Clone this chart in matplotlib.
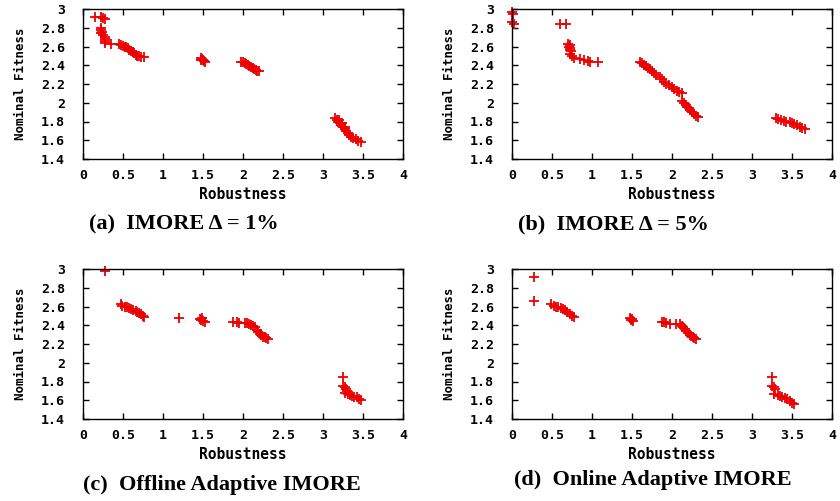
import matplotlib
matplotlib.use("Agg")
import matplotlib.pyplot as plt

# ---- data ----
a_x = [0.15, 0.22, 0.25, 0.27, 0.22, 0.23, 0.24, 0.23, 0.25, 0.27, 0.28, 0.27, 0.28, 0.35,
       0.45, 0.48, 0.50, 0.52, 0.54, 0.56, 0.58, 0.60, 0.62, 0.64, 0.66, 0.68, 0.70, 0.72, 0.76,
       1.47, 1.49, 1.50, 1.51, 1.52, 1.48,
       1.97, 2.00, 2.02, 2.04, 2.06, 2.08, 2.10, 2.12, 2.14, 2.16, 2.18, 2.20,
       3.15, 3.17, 3.19, 3.21, 3.23, 3.25, 3.27, 3.29, 3.31, 3.33, 3.35, 3.38, 3.41, 3.44, 3.48,
       3.20, 3.24, 3.28]
a_y = [2.92, 2.92, 2.90, 2.89, 2.80, 2.78, 2.76, 2.74, 2.72, 2.70, 2.68, 2.66, 2.64, 2.63,
       2.63, 2.62, 2.61, 2.60, 2.59, 2.58, 2.56, 2.55, 2.54, 2.53, 2.51, 2.50, 2.50, 2.49, 2.49,
       2.48, 2.47, 2.46, 2.45, 2.44, 2.46,
       2.43, 2.43, 2.42, 2.41, 2.40, 2.39, 2.38, 2.37, 2.36, 2.35, 2.34, 2.34,
       1.84, 1.82, 1.80, 1.78, 1.76, 1.74, 1.72, 1.70, 1.68, 1.66, 1.64, 1.62, 1.61, 1.59, 1.58,
       1.82, 1.78, 1.74]

b_x = [0.00, 0.01, 0.00, 0.02, 0.60, 0.68,
       0.70, 0.72, 0.71, 0.73, 0.72, 0.74, 0.73, 0.75, 0.78, 0.85, 0.90, 0.95, 0.98, 1.07,
       1.60, 1.63, 1.65, 1.68, 1.70, 1.72, 1.75, 1.78, 1.80, 1.85, 1.88, 1.90, 1.93, 1.96,
       2.00, 2.03, 2.06, 2.09, 2.12, 2.13,
       2.15, 2.17, 2.19, 2.21, 2.23, 2.25, 2.27, 2.30, 2.32,
       3.30, 3.33, 3.36, 3.40, 3.43, 3.47, 3.50, 3.53, 3.56, 3.60, 3.63, 3.66]
b_y = [2.97, 2.95, 2.86, 2.84, 2.84, 2.84,
       2.63, 2.62, 2.60, 2.58, 2.56, 2.55, 2.52, 2.50, 2.48, 2.47, 2.46, 2.45, 2.44, 2.44,
       2.43, 2.42, 2.40, 2.39, 2.37, 2.36, 2.34, 2.32, 2.30, 2.27, 2.25, 2.22, 2.20, 2.19,
       2.17, 2.15, 2.13, 2.12, 2.10, 2.02,
       2.00, 1.98, 1.96, 1.94, 1.92, 1.90, 1.88, 1.86, 1.85,
       1.84, 1.83, 1.82, 1.81, 1.80, 1.79, 1.78, 1.77, 1.76, 1.74, 1.73, 1.72]

c_x = [0.28,
       0.47, 0.49, 0.52, 0.55, 0.58, 0.60, 0.63, 0.66, 0.68, 0.70, 0.72, 0.75, 0.76,
       1.20,
       1.46, 1.48, 1.50, 1.52, 1.49,
       1.87, 1.92, 1.95, 2.02, 2.05, 2.08, 2.10, 2.13, 2.15, 2.17, 2.19, 2.21, 2.23, 2.25,
       2.27, 2.29, 2.31,
       3.25, 3.25, 3.27, 3.29, 3.30, 3.28, 3.31, 3.34, 3.36, 3.39, 3.42, 3.45, 3.48]
c_y = [2.98,
       2.63, 2.61, 2.60, 2.59, 2.58, 2.57, 2.56, 2.55, 2.54, 2.53, 2.52, 2.50, 2.49,
       2.48,
       2.47, 2.46, 2.45, 2.44, 2.48,
       2.43, 2.43, 2.42, 2.42, 2.42, 2.41, 2.40, 2.39, 2.38, 2.35, 2.33, 2.31, 2.30, 2.28,
       2.27, 2.26, 2.25,
       1.85, 1.75, 1.74, 1.72, 1.70, 1.68, 1.67, 1.66, 1.65, 1.64, 1.63, 1.61, 1.60]

d_x = [0.28, 0.28,
       0.49, 0.52, 0.55, 0.58, 0.61, 0.64, 0.66, 0.69, 0.72, 0.75, 0.77,
       1.47, 1.49, 1.51, 1.50,
       1.87, 1.90, 1.93, 1.98, 2.05, 2.10, 2.12, 2.14, 2.16, 2.18, 2.20, 2.22, 2.24, 2.26,
       2.28, 2.30,
       3.25, 3.25, 3.27, 3.29, 3.28, 3.32, 3.35, 3.38, 3.41, 3.44, 3.47, 3.50, 3.52]
d_y = [2.91, 2.66,
       2.63, 2.61, 2.60, 2.59, 2.58, 2.57, 2.56, 2.54, 2.52, 2.50, 2.49,
       2.48, 2.46, 2.45, 2.47,
       2.43, 2.43, 2.42, 2.41, 2.41, 2.41, 2.39, 2.38, 2.36, 2.34, 2.32, 2.30, 2.29, 2.28,
       2.26, 2.25,
       1.85, 1.75, 1.74, 1.72, 1.67, 1.66, 1.65, 1.64, 1.62, 1.61, 1.59, 1.57, 1.56]

x_ticks = [0, 0.5, 1, 1.5, 2, 2.5, 3, 3.5, 4]
x_tick_labels = ["0", "0.5", "1", "1.5", "2", "2.5", "3", "3.5", "4"]
y_ticks = [1.4, 1.6, 1.8, 2.0, 2.2, 2.4, 2.6, 2.8, 3.0]
y_tick_labels = ["1.4", "1.6", "1.8", "2", "2.2", "2.4", "2.6", "2.8", "3"]
captions = ["(a)  IMORE \u0394 = 1%", "(b)  IMORE \u0394 = 5%",
            "(c)  Offline Adaptive IMORE", "(d)  Online Adaptive IMORE"]

W, H = 840, 501
fig = plt.figure(figsize=(W / 100, H / 100), dpi=100)

panels = [
    (a_x, a_y, 83, 9),
    (b_x, b_y, 512, 9),
    (c_x, c_y, 83, 269),
    (d_x, d_y, 512, 269),
]
cap_pos = [(184, 224), (613, 224), (222, 485), (653, 480)]
aw, ah = 320, 150

mono = "DejaVu Sans Mono"
for (xs, ys, left, top), cap, (cx, cy) in zip(panels, captions, cap_pos):
    ax = fig.add_axes([left / W, 1 - (top + ah) / H, aw / W, ah / H])
    ax.plot(xs, ys, linestyle="none", marker="+", color="#ee0000",
            markersize=7, markeredgewidth=1.3, clip_on=False)
    ax.set_xlim(0, 4)
    ax.set_ylim(1.4, 3.0)
    ax.set_xticks(x_ticks)
    ax.set_xticklabels(x_tick_labels, fontfamily=mono, fontweight="bold", fontsize=9.5)
    ax.set_yticks(y_ticks)
    ax.set_yticklabels(y_tick_labels, fontfamily=mono, fontweight="bold", fontsize=9.5)
    ax.tick_params(axis="x", direction="in", top=True, length=4, width=1, pad=7)
    ax.tick_params(axis="y", direction="in", right=True, length=4, width=1, pad=13)
    for s in ax.spines.values():
        s.set_linewidth(1)
    ax.set_xlabel("Robustness", fontfamily=mono, fontweight="bold", fontsize=10.5, labelpad=4)
    ax.set_ylabel("Nominal Fitness", fontfamily=mono, fontweight="bold", fontsize=9, labelpad=10)
    fig.text(cx / W, 1 - cy / H, cap, ha="center", va="center",
             fontfamily="Liberation Serif", fontweight="bold", fontsize=16)

fig.savefig("out.png", dpi=100)
